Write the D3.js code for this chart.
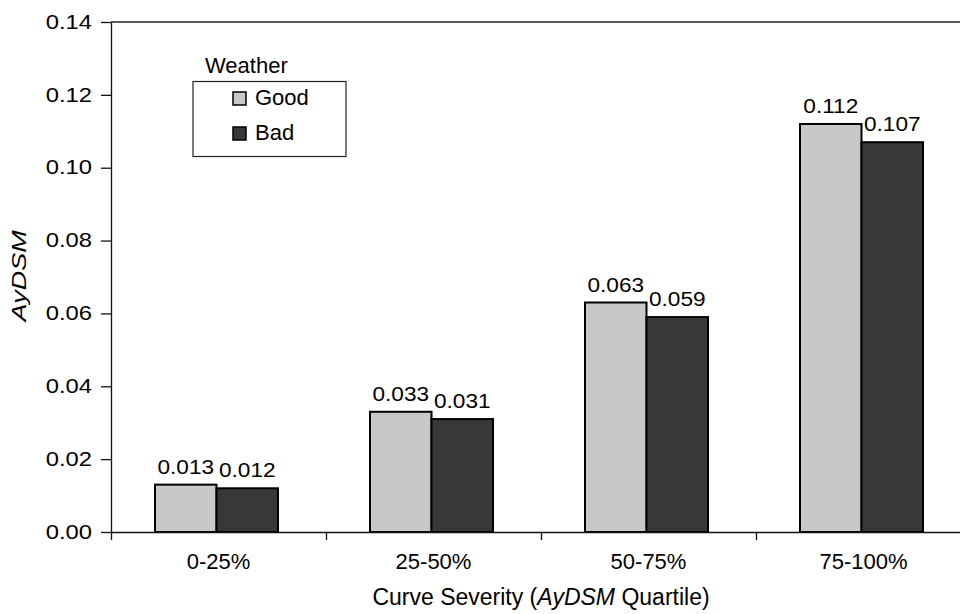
<!DOCTYPE html>
<html lang="en">
<head>
  <meta charset="UTF-8" />
  <title>AyDSM by Curve Severity</title>
  <style>
    body { margin: 0; background: #fff; }
    svg { display: block; font-family: "Liberation Sans", Arial, sans-serif; }
    .axis path, .axis line { stroke: #111; stroke-width: 1.3; }
    .axis text { fill: #000; }
  </style>
</head>
<body>
  <div id="chart"></div>
  <script src="https://d3js.org/d3.v7.min.js"></script>
  <script>
    const categories = ['0-25%', '25-50%', '50-75%', '75-100%'];
    const seriesNames = ['Good', 'Bad'];
    const goodValues = [0.013, 0.033, 0.063, 0.112];
    const badValues = [0.012, 0.031, 0.059, 0.107];
    const yTicks = [0, 0.02, 0.04, 0.06, 0.08, 0.10, 0.12, 0.14];

    const width = 960, height = 614;
    const plotLeft = 111, plotTop = 22, plotBottom = 532, plotRight = 971;
    const colors = { Good: '#c8c8c8', Bad: '#383838' };
    const numStretch = 1.22; // the numbers in the original are drawn wide
    const labelStretch = 1.16;

    const svg = d3.select('#chart').append('svg')
      .attr('width', width)
      .attr('height', height);

    // stretch text horizontally around its own anchor
    function widen(sel, s) {
      sel.each(function() {
        const t = d3.select(this);
        const x0 = +t.attr('x') || 0;
        t.attr('x', x0 / s).attr('transform', `scale(${s},1)`);
      });
    }

    const y = d3.scaleLinear().domain([0, 0.14]).range([plotBottom, plotTop]);
    const x = d3.scaleBand().domain(categories).range([plotLeft, plotRight]);
    const xBound = d3.scaleLinear().domain([0, categories.length]).range([plotLeft, plotRight]);
    const inner = d3.scaleBand().domain(seriesNames).range([0, 123]);
    const groupOffset = 44;

    // top border of plot area
    svg.append('line')
      .attr('x1', plotLeft).attr('x2', width)
      .attr('y1', plotTop).attr('y2', plotTop)
      .attr('stroke', '#222').attr('stroke-width', 1.3);

    // bars
    const rows = categories.map((c, i) => ({ cat: c, Good: goodValues[i], Bad: badValues[i] }));
    const groups = svg.append('g').selectAll('g')
      .data(rows).enter().append('g')
      .attr('transform', d => `translate(${x(d.cat) + groupOffset},0)`);

    groups.selectAll('rect')
      .data(d => seriesNames.map(s => ({ s, v: d[s] })))
      .enter().append('rect')
      .attr('x', d => inner(d.s))
      .attr('width', inner.bandwidth())
      .attr('y', d => y(d.v))
      .attr('height', d => y(0) - y(d.v))
      .attr('fill', d => colors[d.s])
      .attr('stroke', '#000')
      .attr('stroke-width', 2);

    groups.selectAll('text')
      .data(d => seriesNames.map(s => ({ s, v: d[s] })))
      .enter().append('text')
      .attr('transform', d => `translate(${inner(d.s) + inner.bandwidth() / 2},${y(d.v) - 11}) scale(${labelStretch},1)`)
      .attr('text-anchor', 'middle')
      .attr('font-size', 19.5)
      .text(d => d.v.toFixed(3));

    // y axis
    svg.append('g')
      .attr('class', 'axis')
      .attr('transform', `translate(${plotLeft},0)`)
      .call(d3.axisLeft(y).tickValues(yTicks).tickFormat(d3.format('.2f')).tickSize(10).tickSizeOuter(0).tickPadding(9))
      .call(g => g.selectAll('text').attr('font-size', 19.5).call(widen, numStretch));

    // x axis with ticks at category boundaries
    svg.append('g')
      .attr('class', 'axis')
      .attr('transform', `translate(0,${plotBottom})`)
      .call(d3.axisBottom(xBound).tickValues(d3.range(categories.length + 1)).tickFormat('').tickSize(8).tickSizeOuter(0));

    svg.append('g')
      .attr('class', 'axis')
      .attr('transform', `translate(0,${plotBottom})`)
      .call(d3.axisBottom(x).tickSize(0).tickPadding(21))
      .call(g => g.select('.domain').remove())
      .call(g => g.selectAll('text').attr('font-size', 22));

    // axis titles
    const xt = svg.append('text')
      .attr('x', (plotLeft + plotRight) / 2)
      .attr('y', 605)
      .attr('text-anchor', 'middle')
      .attr('font-size', 23);
    xt.append('tspan').text('Curve Severity (');
    xt.append('tspan').attr('font-style', 'italic').text('AyDSM');
    xt.append('tspan').text(' Quartile)');

    svg.append('text')
      .attr('transform', `translate(26,276) rotate(-90) scale(1.35,1)`)
      .attr('text-anchor', 'middle')
      .attr('font-size', 20)
      .attr('font-style', 'italic')
      .text('AyDSM');

    // legend
    const legend = svg.append('g');
    legend.append('text')
      .attr('x', 205).attr('y', 73)
      .attr('font-size', 22)
      .text('Weather');
    legend.append('rect')
      .attr('x', 193).attr('y', 81.5)
      .attr('width', 153).attr('height', 75)
      .attr('fill', '#fff').attr('stroke', '#222').attr('stroke-width', 1.2);
    seriesNames.forEach((s, i) => {
      const base = 105 + i * 35;
      legend.append('rect')
        .attr('x', 233).attr('y', base - 13)
        .attr('width', 13).attr('height', 13)
        .attr('fill', colors[s]).attr('stroke', '#000').attr('stroke-width', 1.5);
      legend.append('text')
        .attr('x', 255).attr('y', base)
        .attr('font-size', 22)
        .text(s);
    });
  </script>
</body>
</html>
